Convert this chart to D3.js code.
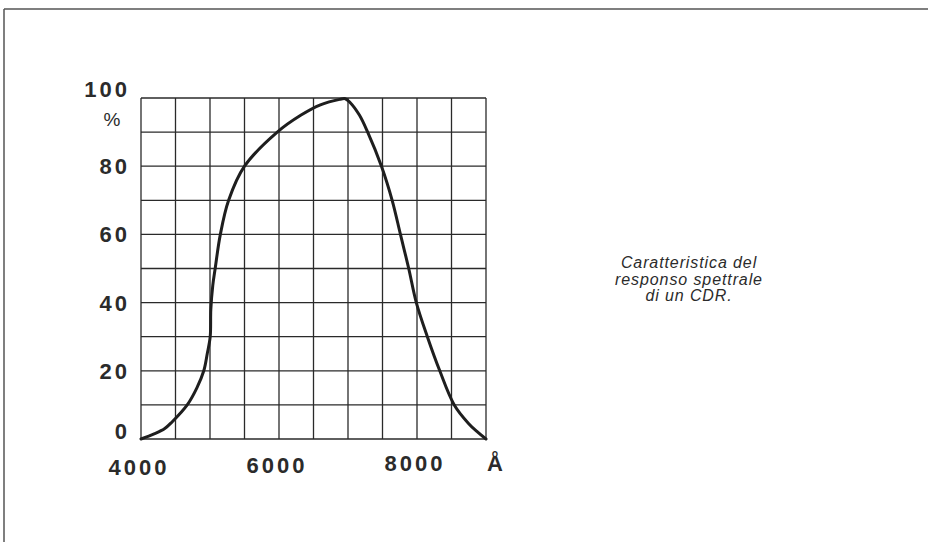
<!DOCTYPE html>
<html>
<head>
<meta charset="utf-8">
<script src="https://cdn.jsdelivr.net/npm/d3@7"></script>
<style>
  body { margin: 0; background: #fff; overflow: hidden; }
  svg { display: block; }
  .grid line { stroke: #2a2a2a; stroke-width: 1.3; }
  .frame { stroke: #555; stroke-width: 1.5; }
  .lbl { font-family: "Liberation Sans", Arial, sans-serif; font-weight: bold; font-size: 22px; fill: #2b2b2b; letter-spacing: 3px; }
  .note { font-family: "Liberation Sans", Arial, sans-serif; font-style: italic; font-size: 16px; fill: #2b2b2b; letter-spacing: 0.9px; }
</style>
</head>
<body>
<div id="chart"></div>
<script>
// spectral response of a CdS photoresistor
var wavelength = [4000, 4190, 4340, 4450, 4670, 4810, 4910, 4960, 5003, 5012, 5040, 5075, 5150, 5270, 5500, 5975, 6320, 6600, 6880, 6960, 7030, 7165, 7285, 7485, 7640, 7760, 7880, 7990, 8150, 8330, 8540, 8750, 8880, 9000];
var response   = [0, 1.5, 3, 5, 10, 15, 20, 25, 30, 38, 45, 50, 60, 70, 80, 90, 95, 98, 99.6, 99.8, 98.7, 95, 90, 80, 70, 60, 50, 40, 30, 20, 10, 4.5, 2, 0];

var xGrid = d3.range(4000, 9001, 500);
var yGrid = d3.range(0, 101, 10);
var xTickLabels = [4000, 6000, 8000];
var yTickLabels = [0, 20, 40, 60, 80, 100];
var noteLines = ["Caratteristica del", "responso spettrale", "di un CDR."];

var W = 928, H = 542;
var margin = {top: 98, left: 141, right: 442, bottom: 103};

var svg = d3.select("#chart").append("svg")
    .attr("width", W)
    .attr("height", H);

// page frame: only top and left edges show in the scan
svg.append("line").attr("class", "frame")
    .attr("x1", 4).attr("y1", 9).attr("x2", W).attr("y2", 9);
svg.append("line").attr("class", "frame")
    .attr("x1", 4).attr("y1", 9).attr("x2", 4).attr("y2", H);

var x = d3.scaleLinear().domain([4000, 9000]).range([margin.left, W - margin.right]);
var y = d3.scaleLinear().domain([0, 100]).range([H - margin.bottom, margin.top]);

var grid = svg.append("g").attr("class", "grid");
grid.selectAll(".v").data(xGrid).enter().append("line")
    .attr("x1", function(d) { return x(d); })
    .attr("x2", function(d) { return x(d); })
    .attr("y1", y(0)).attr("y2", y(100));
grid.selectAll(".h").data(yGrid).enter().append("line")
    .attr("y1", function(d) { return y(d); })
    .attr("y2", function(d) { return y(d); })
    .attr("x1", x(4000)).attr("x2", x(9000));

// y labels
svg.selectAll(".ylab").data(yTickLabels).enter().append("text")
    .attr("class", "lbl")
    .attr("text-anchor", "end")
    .attr("x", x(4000) - 11)
    .attr("y", function(d) { return y(d); })
    .attr("dy", function(d) { return d == 100 ? "-0.05em" : d == 0 ? "0" : "0.36em"; })
    .text(function(d) { return d; });

svg.append("text")
    .attr("class", "lbl")
    .style("font-weight", "normal")
    .style("font-size", "19px")
    .style("letter-spacing", "0")
    .attr("text-anchor", "middle")
    .attr("x", 112)
    .attr("y", 126)
    .text("%");

// x labels
svg.selectAll(".xlab").data(xTickLabels).enter().append("text")
    .attr("class", "lbl")
    .attr("text-anchor", "middle")
    .attr("x", function(d) { return x(d) - 2; })
    .attr("y", function(d) { return 475 - (d - 4000) / 1000; })
    .text(function(d) { return d; });

svg.append("text")
    .attr("class", "lbl")
    .attr("text-anchor", "middle")
    .style("letter-spacing", "0")
    .attr("x", x(9000) + 9)
    .attr("y", 471)
    .text("Å");

// response curve
var line = d3.line()
    .x(function(d, i) { return x(wavelength[i]); })
    .y(function(d) { return y(d); })
    .curve(d3.curveCatmullRom.alpha(0.5));

svg.append("path")
    .datum(response)
    .attr("d", line)
    .attr("fill", "none")
    .attr("stroke", "#1e1e1e")
    .attr("stroke-width", 3)
    .attr("stroke-linecap", "round");

// caption
svg.selectAll(".note").data(noteLines).enter().append("text")
    .attr("class", "note")
    .attr("text-anchor", "middle")
    .attr("x", 689)
    .attr("y", function(d, i) { return 268 + i * 16.5; })
    .text(function(d) { return d; });
</script>
</body>
</html>
